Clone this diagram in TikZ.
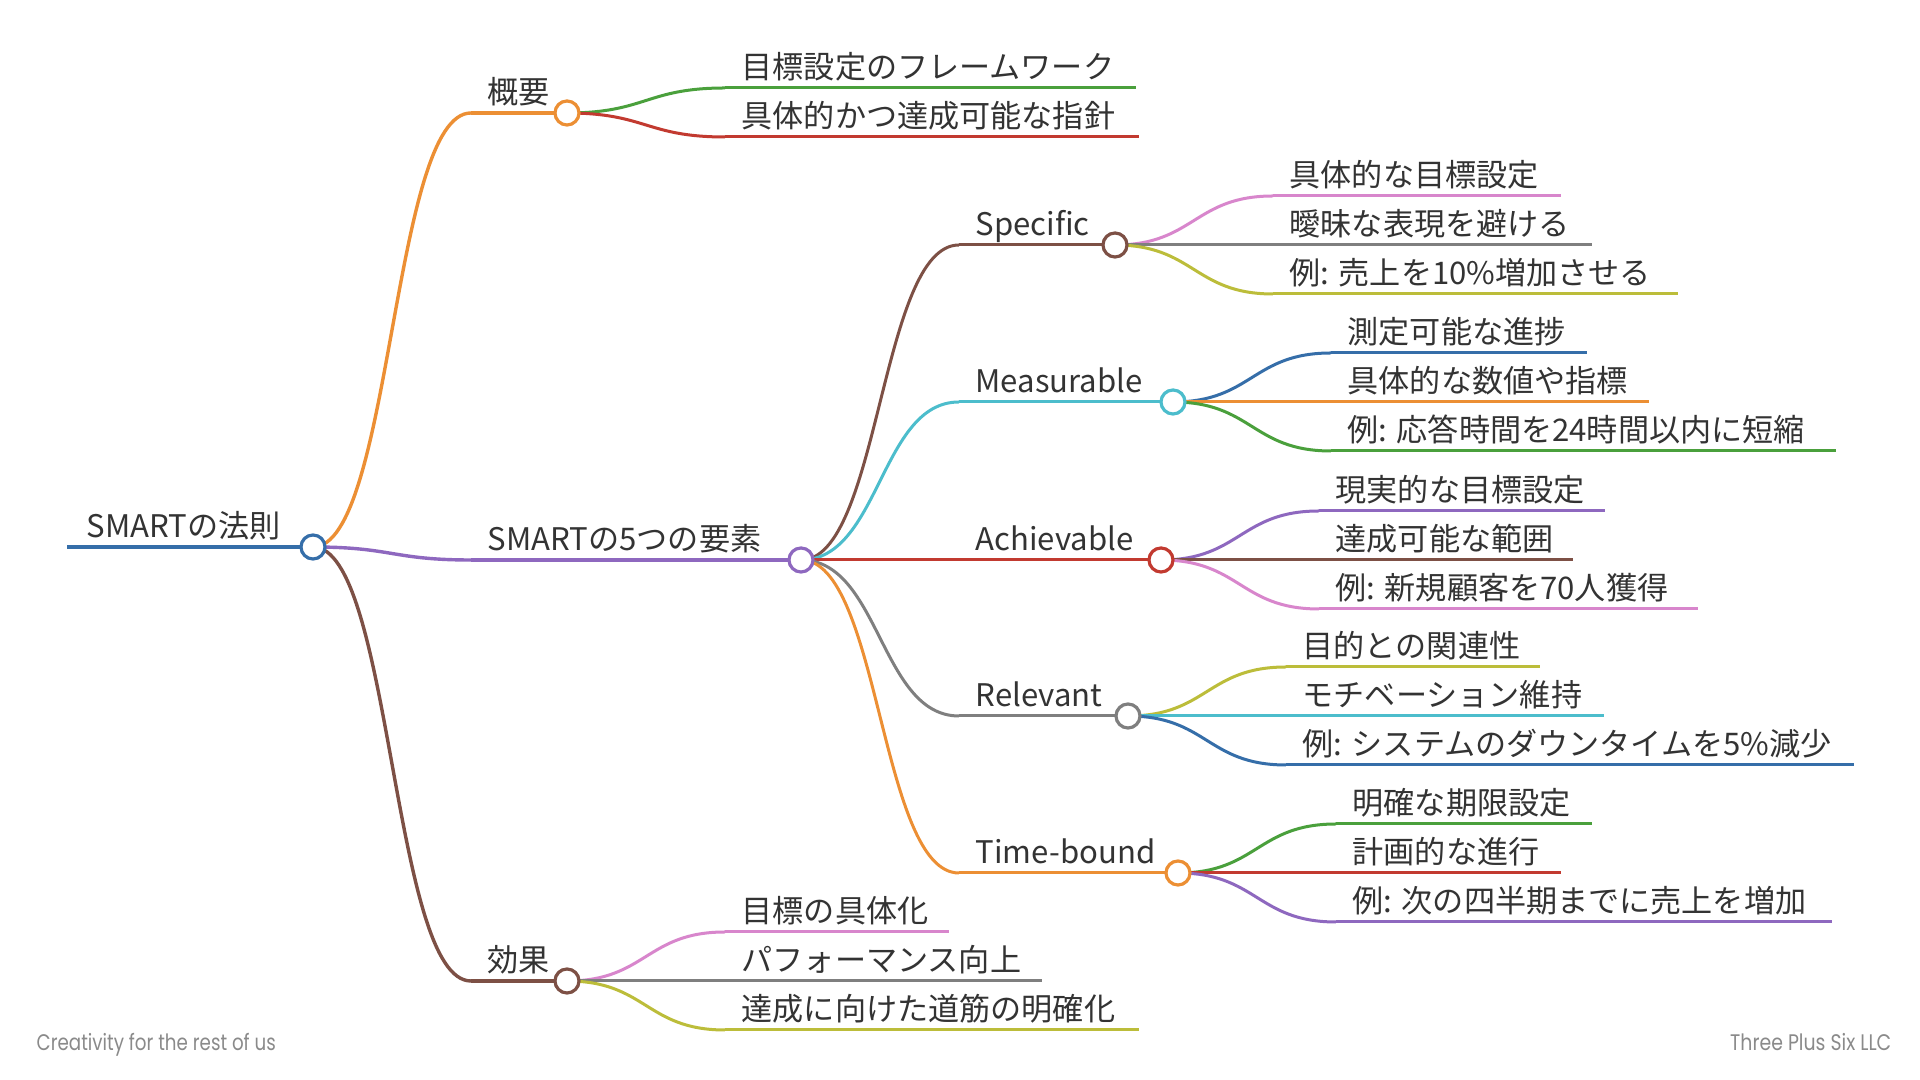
\documentclass[tikz,border=0pt]{standalone}
\usepackage{fontspec}
\setmainfont{Noto Sans CJK JP}
\newfontfamily\footfont{Poppins}
\usetikzlibrary{calc}
\definecolor{cblue}{HTML}{356EA9}
\definecolor{corange}{HTML}{EC8F34}
\definecolor{cgreen}{HTML}{4AA03C}
\definecolor{cred}{HTML}{C23A30}
\definecolor{cpurple}{HTML}{8E68BF}
\definecolor{cbrown}{HTML}{7D5045}
\definecolor{cpink}{HTML}{D886CC}
\definecolor{cgray}{HTML}{7F7F7F}
\definecolor{colive}{HTML}{BCBD3A}
\definecolor{ccyan}{HTML}{4CBDCC}
\definecolor{ctxt}{HTML}{333333}
\definecolor{cfoot}{HTML}{8A8A8A}
\tikzset{
  lbl/.style={anchor=base west, inner sep=0pt, text=ctxt, font=\fontsize{8.85pt}{10pt}\selectfont},
  dot/.style={circle, draw=#1, fill=white, line width=0.32mm, minimum size=2.4mm, inner sep=0pt},
  foot/.style={inner sep=0pt, text=cfoot, font=\footfont\fontsize{6.4pt}{7pt}\selectfont},
}
% curve from coordinate #1 to coordinate #2, colour #3, width #4
\newcommand\mmcurve[4]{%
  \draw[#3, line width=#4] let \p1=(#1), \p2=(#2) in
    (\p1) .. controls ({0.5*\x1+0.5*\x2},\y1) and ({0.5*\x1+0.5*\x2},\y2) .. (\p2);}
% #1 parent, #2 name, #3 curve end x, #4 y, #5 line end x, #6 colour, #7 width, #8 text
\newcommand\mmbranch[8]{%
  \coordinate (#2-e) at (#3,#4);
  \coordinate (#2-z) at (#5,#4);
  \mmcurve{#1}{#2-e}{#6}{#7}
  \draw[#6, line width=#7] (#2-e) -- (#2-z);
  \node[lbl] (#2-t) at ({#3+16},{#4-9}) {#8};}
\begin{document}
\begin{tikzpicture}[x=0.01cm, y=-0.01cm]
\useasboundingbox (0,0) rectangle (1920,1080);
\fill[white] (0,0) rectangle (1920,1080);

% root
\coordinate (root-s) at (67,547);
\coordinate (root-z) at (313,547);
\draw[cblue, line width=0.45mm] (root-s) -- (root-z);
\node[lbl] (root-t) at (86,538) {SMARTの法則};

% level 1
\mmbranch{root-z}{gaiyo}{471}{113}{567}{corange}{0.34mm}{概要}
\mmbranch{root-z}{five}{471}{560}{801}{cpurple}{0.34mm}{SMARTの5つの要素}
\mmbranch{root-z}{kouka}{471}{981}{567}{cbrown}{0.34mm}{効果}

% 概要 leaves
\mmbranch{gaiyo-z}{g1}{725}{88}{1136}{cgreen}{0.3mm}{目標設定のフレームワーク}
\mmbranch{gaiyo-z}{g2}{725}{137}{1139}{cred}{0.3mm}{具体的かつ達成可能な指針}

% level 2
\mmbranch{five-z}{spec}{959}{245}{1115}{cbrown}{0.3mm}{Specific}
\mmbranch{five-z}{meas}{959}{402}{1173}{ccyan}{0.3mm}{Measurable}
\mmbranch{five-z}{ach}{959}{560}{1161}{cred}{0.3mm}{Achievable}
\mmbranch{five-z}{rel}{959}{716}{1128}{cgray}{0.3mm}{Relevant}
\mmbranch{five-z}{time}{959}{873}{1178}{corange}{0.3mm}{Time-bound}

% Specific leaves
\mmbranch{spec-z}{s1}{1273}{196}{1561}{cpink}{0.3mm}{具体的な目標設定}
\mmbranch{spec-z}{s2}{1273}{245}{1592}{cgray}{0.3mm}{曖昧な表現を避ける}
\mmbranch{spec-z}{s3}{1273}{294}{1678}{colive}{0.3mm}{例: 売上を10\%増加させる}

% Measurable leaves
\mmbranch{meas-z}{m1}{1331}{353}{1587}{cblue}{0.3mm}{測定可能な進捗}
\mmbranch{meas-z}{m2}{1331}{402}{1649}{corange}{0.3mm}{具体的な数値や指標}
\mmbranch{meas-z}{m3}{1331}{451}{1836}{cgreen}{0.3mm}{例: 応答時間を24時間以内に短縮}

% Achievable leaves
\mmbranch{ach-z}{a1}{1319}{511}{1605}{cpurple}{0.3mm}{現実的な目標設定}
\mmbranch{ach-z}{a2}{1319}{560}{1573}{cbrown}{0.3mm}{達成可能な範囲}
\mmbranch{ach-z}{a3}{1319}{609}{1698}{cpink}{0.3mm}{例: 新規顧客を70人獲得}

% Relevant leaves
\mmbranch{rel-z}{r1}{1286}{667}{1540}{colive}{0.3mm}{目的との関連性}
\mmbranch{rel-z}{r2}{1286}{716}{1604}{ccyan}{0.3mm}{モチベーション維持}
\mmbranch{rel-z}{r3}{1286}{765}{1854}{cblue}{0.3mm}{例: システムのダウンタイムを5\%減少}

% Time-bound leaves
\mmbranch{time-z}{t1}{1336}{824}{1592}{cgreen}{0.3mm}{明確な期限設定}
\mmbranch{time-z}{t2}{1336}{873}{1561}{cred}{0.3mm}{計画的な進行}
\mmbranch{time-z}{t3}{1336}{922}{1832}{cpurple}{0.3mm}{例: 次の四半期までに売上を増加}

% 効果 leaves
\mmbranch{kouka-z}{k1}{725}{932}{949}{cpink}{0.3mm}{目標の具体化}
\mmbranch{kouka-z}{k2}{725}{981}{1042}{cgray}{0.3mm}{パフォーマンス向上}
\mmbranch{kouka-z}{k3}{725}{1030}{1139}{colive}{0.3mm}{達成に向けた道筋の明確化}

% circles
\node[dot=cblue] (root) at (root-z) {};
\node[dot=corange] (gaiyo) at (gaiyo-z) {};
\node[dot=cpurple] (five) at (five-z) {};
\node[dot=cbrown] (kouka) at (kouka-z) {};
\node[dot=cbrown] (spec) at (spec-z) {};
\node[dot=ccyan] (meas) at (meas-z) {};
\node[dot=cred] (ach) at (ach-z) {};
\node[dot=cgray] (rel) at (rel-z) {};
\node[dot=corange] (time) at (time-z) {};

% footer
\node[foot, anchor=base west] (foot1) at (36,1051) {\resizebox{2.39cm}{\height}{Creativity for the rest of us}};
\node[foot, anchor=base east] (foot2) at (1892,1051) {\resizebox{1.61cm}{\height}{Three Plus Six LLC}};
\end{tikzpicture}
\end{document}
